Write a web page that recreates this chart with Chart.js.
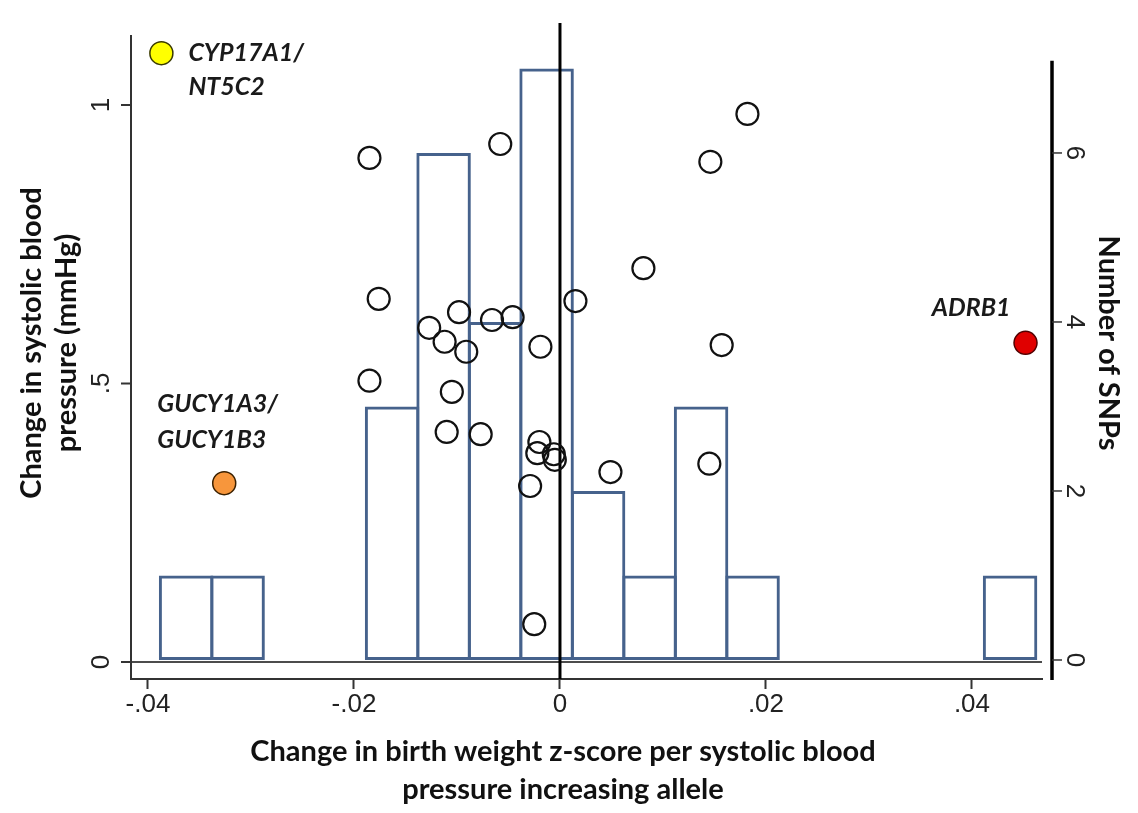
<!DOCTYPE html>
<html>
<head>
<meta charset="utf-8">
<script src="https://cdn.jsdelivr.net/npm/chart.js@4.4.0/dist/chart.umd.min.js"></script>
<style>
  html, body { margin: 0; padding: 0; background: #fff; }
  #wrap { width: 1138px; height: 813px; }
</style>
</head>
<body>
<div id="wrap"><canvas id="myChart" width="1138" height="813"></canvas></div>
<script>
"use strict";

// Data

// SNP effects: x = birth weight z-score change, y = SBP change (mmHg)
const snpX = [
  -0.0185, -0.0058, 0.0182, 0.0146, -0.0176, 0.0081, 0.0015, -0.0098, -0.0127,
  -0.0112, -0.0091, -0.0066, -0.0046, -0.0019, 0.0157, -0.0185, -0.0105,
  -0.0110, -0.0077, -0.0020, -0.0022, -0.0006, -0.0005, -0.0029, 0.0049,
  0.0145, -0.0025,
];
const snpY = [
  0.905, 0.93, 0.984, 0.898, 0.652, 0.707, 0.648, 0.628, 0.6, 0.575, 0.557,
  0.614, 0.619, 0.566, 0.569, 0.505, 0.485, 0.413, 0.409, 0.395, 0.375, 0.373,
  0.363, 0.316, 0.341, 0.356, 0.068,
];

const highlightX = [-0.0387, -0.0326, 0.0452];
const highlightY = [1.093, 0.321, 0.573];
const highlightNames = [["CYP17A1/", "NT5C2"], ["GUCY1A3/", "GUCY1B3"], ["ADRB1"]];
const highlightColors = ["#ffff00", "#f7963c", "#e00000"];
const highlightBorders = ["#3a3a00", "#3a2000", "#500000"];

// histogram of SNP x values (bin width .005)
const binCenters = [
  -0.0363, -0.0313, -0.0163, -0.0113, -0.0063, -0.0013, 0.0037, 0.0087, 0.0137,
  0.0187, 0.0437,
];
const binCounts = [1, 1, 3, 6, 4, 7, 2, 1, 3, 1, 1];

const xTicks = [-0.04, -0.02, 0, 0.02, 0.04];
const xTickLabels = ["-.04", "-.02", "0", ".02", ".04"];
const leftTicks = [0, 0.5, 1];
const leftTickLabels = ["0", ".5", "1"];
const rightTicks = [0, 2, 4, 6];
const rightTickLabels = ["0", "2", "4", "6"];

const xTitle = ["Change in birth weight z-score per systolic blood", "pressure increasing allele"];
const leftTitle = ["Change in systolic blood", "pressure (mmHg)"];
const rightTitle = "Number of SNPs";

// Label placement next to the coloured points (pixels)
const labelOffsets = [
  { dx: 27, dy: 0, gap: 34, align: "left" },
  { dx: -67, dy: -79, gap: 36, align: "left" },
  { dx: -15, dy: -35, gap: 0, align: "right" },
];

const tickFont = "26px 'Liberation Sans', Arial, sans-serif";
const titleFont = "bold 29px Lato, 'Open Sans', sans-serif";
const labelFont = "italic bold 25px Lato, 'Open Sans', sans-serif";

// Draw axes, reference lines, titles and labels the Stata way

const drawRotated = (ctx, text, x, y, angle) => {
  ctx.save();
  ctx.translate(x, y);
  ctx.rotate(angle);
  ctx.fillText(text, 0, 0);
  ctx.restore();
};

const stataFrame = {
  id: "stataFrame",
  beforeDatasetsDraw(chart) {
    const { ctx, chartArea, scales } = chart;
    const y0 = scales.y.getPixelForValue(0);
    ctx.save();
    ctx.strokeStyle = "#111";
    ctx.lineWidth = 1.5;
    ctx.beginPath();
    ctx.moveTo(chartArea.left, y0);
    ctx.lineTo(chartArea.right, y0);
    ctx.stroke();
    ctx.restore();
  },
  afterDatasetDraw(chart, args) {
    if (args.meta.type !== "bar") return;
    const { ctx, chartArea, scales } = chart;
    const x0 = scales.x.getPixelForValue(0);
    ctx.save();
    ctx.strokeStyle = "#000";
    ctx.lineWidth = 3;
    ctx.beginPath();
    ctx.moveTo(x0, chartArea.top);
    ctx.lineTo(x0, chartArea.bottom);
    ctx.stroke();
    ctx.restore();
  },
  afterDraw(chart) {
    const { ctx, chartArea, scales } = chart;
    const yL = scales.y;
    const yR = scales.y2;
    ctx.save();

    // left axis
    ctx.strokeStyle = "#333";
    ctx.lineWidth = 2;
    ctx.beginPath();
    ctx.moveTo(chartArea.left, yL.getPixelForValue(1.1257));
    ctx.lineTo(chartArea.left, chartArea.bottom + 1);
    ctx.stroke();
    ctx.fillStyle = "#222";
    ctx.font = tickFont;
    ctx.textAlign = "center";
    ctx.textBaseline = "middle";
    leftTicks.forEach((v, i) => {
      const py = yL.getPixelForValue(v);
      ctx.beginPath();
      ctx.moveTo(chartArea.left - 10, py);
      ctx.lineTo(chartArea.left, py);
      ctx.stroke();
      drawRotated(ctx, leftTickLabels[i], chartArea.left - 29, py, -Math.PI / 2);
    });

    // right axis
    const xr = chartArea.right + 10;
    ctx.strokeStyle = "#000";
    ctx.lineWidth = 3.5;
    ctx.beginPath();
    ctx.moveTo(xr, yR.getPixelForValue(7.09));
    ctx.lineTo(xr, chartArea.bottom + 1);
    ctx.stroke();
    ctx.lineWidth = 1.5;
    ctx.strokeStyle = "#333";
    rightTicks.forEach((v, i) => {
      const py = yR.getPixelForValue(v);
      ctx.beginPath();
      ctx.moveTo(xr, py);
      ctx.lineTo(xr + 10, py);
      ctx.stroke();
      drawRotated(ctx, rightTickLabels[i], xr + 22, py, Math.PI / 2);
    });

    // titles
    ctx.fillStyle = "#111";
    ctx.font = titleFont;
    xTitle.forEach((t, i) => ctx.fillText(t, 563, 752 + i * 38));
    leftTitle.forEach((t, i) => drawRotated(ctx, t, 32 + i * 35, 343, -Math.PI / 2));
    drawRotated(ctx, rightTitle, 1108, 343, Math.PI / 2);

    // labels of the coloured SNPs
    ctx.font = labelFont;
    ctx.fillStyle = "#1a1a1a";
    highlightNames.forEach((lines, i) => {
      const px = scales.x.getPixelForValue(highlightX[i]);
      const py = yL.getPixelForValue(highlightY[i]);
      const o = labelOffsets[i];
      ctx.textAlign = o.align;
      lines.forEach((t, j) => ctx.fillText(t, px + o.dx, py + o.dy + j * o.gap));
    });
    ctx.restore();
  },
};

const ctx = document.getElementById("myChart").getContext("2d");
const myChart = new Chart(ctx, {
  type: "bar",
  data: {
    datasets: [
      {
        type: "scatter",
        label: "Highlighted SNPs",
        data: highlightX.map((x, i) => ({ x, y: highlightY[i] })),
        yAxisID: "y",
        pointRadius: 11.5,
        borderWidth: 1.5,
        backgroundColor: highlightColors,
        borderColor: highlightBorders,
      },
      {
        type: "scatter",
        label: "SNPs",
        data: snpX.map((x, i) => ({ x, y: snpY[i] })),
        yAxisID: "y",
        pointRadius: 11,
        borderWidth: 2.2,
        backgroundColor: "rgba(255,255,255,0)",
        borderColor: "#111",
      },
      {
        type: "bar",
        label: "Number of SNPs",
        data: binCenters.map((x, i) => ({ x, y: binCounts[i] })),
        yAxisID: "y2",
        backgroundColor: "rgba(255,255,255,0)",
        borderColor: "#46628c",
        borderWidth: 3,
        borderSkipped: false,
        categoryPercentage: 1,
        barPercentage: 1.058,
      },
    ],
  },
  options: {
    responsive: false,
    animation: false,
    devicePixelRatio: 1,
    layout: { padding: { left: 131, right: 96, top: 23, bottom: 0 } },
    plugins: { legend: { display: false }, tooltip: { enabled: false } },
    scales: {
      x: {
        type: "linear",
        min: -0.04165,
        max: 0.0468,
        offset: false,
        afterBuildTicks: (s) => {
          s.ticks = xTicks.map((v) => ({ value: v }));
        },
        afterFit: (s) => {
          s.height = 134;
        },
        ticks: {
          callback: (v, i) => xTickLabels[i],
          font: { family: "'Liberation Sans', Arial, sans-serif", size: 26 },
          color: "#222",
          padding: 0,
          maxRotation: 0,
          autoSkip: false,
        },
        grid: {
          display: true,
          offset: false,
          drawOnChartArea: false,
          drawTicks: true,
          tickLength: 10,
          tickWidth: 2,
          tickColor: "#333",
        },
        border: { display: true, color: "#333", width: 2 },
      },
      y: { display: false, min: -0.0305, max: 1.1472 },
      y2: { display: false, position: "right", min: -0.2249, max: 7.538 },
    },
  },
  plugins: [stataFrame],
});
</script>
</body>
</html>
